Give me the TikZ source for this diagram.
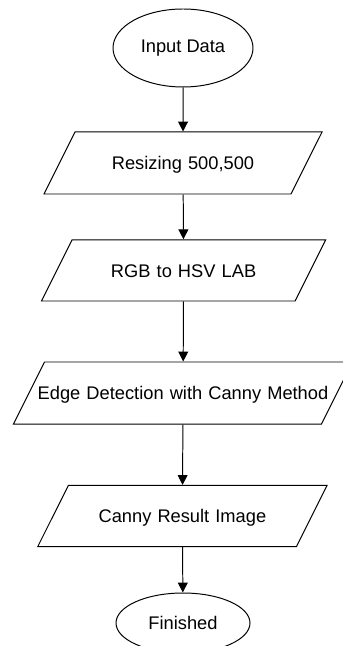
\documentclass[tikz,border=0pt]{standalone}
\usepackage{fontspec}
\setmainfont{Liberation Sans}
\usetikzlibrary{shapes.geometric,arrows.meta}
\begin{document}
\begin{tikzpicture}[
    >={Triangle[width=7pt,length=7pt]},
    line width=0.7pt,
    font=\fontsize{13}{15.6}\selectfont,
    terminal/.style={ellipse, draw, inner sep=0pt},
    iobox/.style={trapezium, draw, trapezium left angle=63.4, trapezium right angle=116.6,
      align=center, text height=9.4pt, text depth=0pt, inner xsep=0pt, inner ysep=0.61cm}]
  \useasboundingbox (0,0) rectangle (8.55,-16.15);
  % Nodes
  \node (input) [terminal, minimum width=3.5cm, minimum height=1.95cm] at (4.575, -1.2) {Input Data};
  \node (resize) [iobox, text width=5.4cm] at (4.575, -4.075) {Resizing 500,500};
  \node (convert) [iobox, text width=5.575cm, inner ysep=0.6cm] at (4.59, -6.76) {RGB to HSV LAB};
  \node (edge) [iobox, text width=7.6cm, inner xsep=-0.3375cm] at (4.575, -9.825) {Edge Detection with Canny Method};
  \node (result) [iobox, text width=5.7cm, inner ysep=0.6cm] at (4.56, -12.9) {Canny Result Image};
  \node (finish) [terminal, minimum width=3.35cm, minimum height=1.5cm] at (4.575, -15.575) {Finished};
  % Arrow
  \draw[->] (input) -- (resize);
  \draw[->] (resize) -- (convert);
  \draw[->] (convert) -- (edge);
  \draw[->] (edge) -- (result);
  \draw[->] (result) -- (finish);
\end{tikzpicture}
\end{document}
